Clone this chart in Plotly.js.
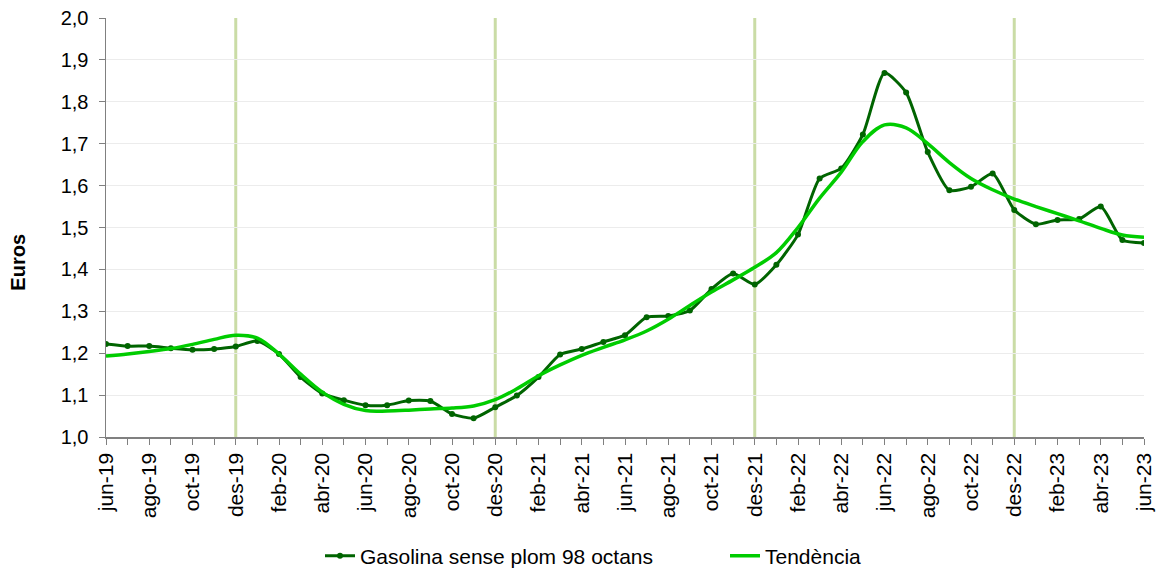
<!DOCTYPE html>
<html>
<head>
<meta charset="utf-8">
<script src="https://cdn.plot.ly/plotly-3.0.1.min.js"></script>
<style>html,body{margin:0;padding:0;background:#fff;}#chart{width:1165px;height:572px;}</style>
</head>
<body>
<div id="chart"></div>
<script>
const months = ["jun-19","jul-19","ago-19","set-19","oct-19","nov-19","des-19","gen-20","feb-20","mar-20","abr-20","mai-20",
"jun-20","jul-20","ago-20","set-20","oct-20","nov-20","des-20","gen-21","feb-21","mar-21","abr-21","mai-21",
"jun-21","jul-21","ago-21","set-21","oct-21","nov-21","des-21","gen-22","feb-22","mar-22","abr-22","mai-22",
"jun-22","jul-22","ago-22","set-22","oct-22","nov-22","des-22","gen-23","feb-23","mar-23","abr-23","mai-23","jun-23"];

const gasolina98 = [1.222,1.217,1.217,1.212,1.208,1.210,1.216,1.229,1.198,1.143,1.104,1.088,
1.076,1.076,1.087,1.086,1.055,1.045,1.071,1.099,1.143,1.197,1.210,1.227,
1.243,1.286,1.289,1.302,1.353,1.390,1.364,1.411,1.483,1.617,1.641,1.722,
1.869,1.822,1.680,1.589,1.597,1.629,1.542,1.508,1.518,1.520,1.550,1.470,1.463];

const tendencia = [1.193,1.198,1.204,1.211,1.221,1.233,1.243,1.236,1.198,1.150,1.107,1.078,
1.063,1.062,1.064,1.067,1.069,1.074,1.089,1.115,1.146,1.172,1.195,1.214,
1.232,1.253,1.281,1.314,1.346,1.375,1.405,1.440,1.500,1.570,1.632,1.705,
1.745,1.738,1.700,1.655,1.617,1.590,1.568,1.550,1.533,1.516,1.498,1.482,1.477];

const yearMarks = ["des-19","des-20","des-21","des-22"];
const tickLabels = months.map((m,i)=> i%2===0 ? m : "");

const traces = [
  {x: months, y: gasolina98, name: "Gasolina sense plom 98 octans", type: "scatter", mode: "lines+markers",
   line: {color: "#006400", width: 3, shape: "spline", smoothing: 0.6},
   marker: {color: "#006400", size: 6}},
  {x: months, y: tendencia, name: "Tendència", type: "scatter", mode: "lines",
   line: {color: "#00CC00", width: 3.5, shape: "spline", smoothing: 1}}
];

const shapes = yearMarks.map(m => ({type: "line", xref: "x", yref: "paper", x0: m, x1: m, y0: 0, y1: 1,
  line: {color: "#cadca6", width: 3}, layer: "below"}));

const layout = {
  width: 1165, height: 572,
  margin: {l: 106, r: 21, t: 18, b: 135},
  paper_bgcolor: "#fff", plot_bgcolor: "#fff",
  separators: ",.",
  font: {family: "Liberation Sans, Arial, sans-serif", color: "#000", size: 18},
  showlegend: true,
  legend: {orientation: "h", xref: "container", yref: "container", x: 320/1165, xanchor: "left",
    y: 16/572, yanchor: "middle", font: {size: 21}, entrywidth: 360, entrywidthmode: "pixels"},
  xaxis: {type: "category", range: [0, 48], tickmode: "array", tickvals: months, ticktext: tickLabels,
    tickangle: -90, ticks: "outside", ticklen: 6, tickcolor: "#808080", showline: true, linecolor: "#808080", linewidth: 1.5,
    showgrid: false, zeroline: false, tickfont: {size: 21}, automargin: false},
  yaxis: {range: [1.0, 2.0], dtick: 0.1, tick0: 1.0, tickformat: ".1f", ticks: "outside", ticklen: 6, tickcolor: "#808080",
    showline: true, linecolor: "#808080", linewidth: 1.5, showgrid: true, gridcolor: "#ececec", gridwidth: 1,
    zeroline: false, tickfont: {size: 20}, ticklabelstandoff: 6, automargin: false},
  annotations: [{text: "<b>Euros</b>", xref: "paper", yref: "paper", x: -0.085, y: 0.418, xanchor: "center", yanchor: "middle",
    textangle: -90, showarrow: false, font: {size: 20}}],
  shapes: shapes
};

Plotly.newPlot("chart", traces, layout, {displayModeBar: false, staticPlot: true});
</script>
</body>
</html>
